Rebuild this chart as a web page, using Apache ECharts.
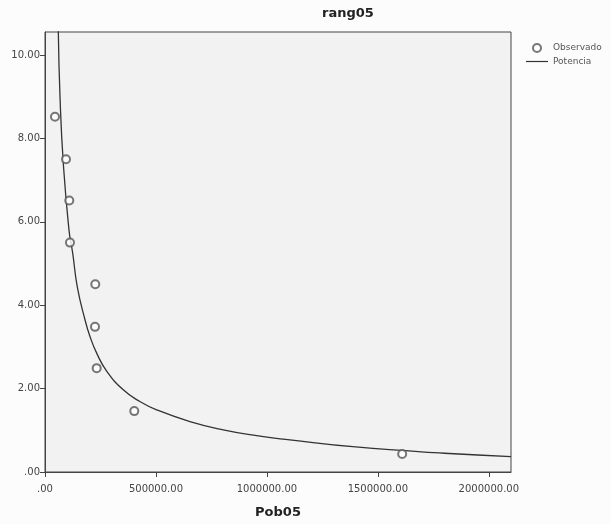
<!DOCTYPE html>
<html>
<head>
<meta charset="utf-8">
<script src="https://cdn.jsdelivr.net/npm/echarts@6/dist/echarts.min.js"></script>
<style>
  html, body { margin: 0; padding: 0; background: #fcfcfc; }
</style>
</head>
<body>
<div id="main" style="width: 611px; height: 524px"></div>
<script>
// observed points (Pob05, rang05)
var pobObs = [45000, 94600, 109500, 112600, 226600, 225300, 232900, 402300, 1609600];
var rangObs = [8.52, 7.5, 6.51, 5.5, 4.5, 3.48, 2.49, 1.46, 0.43];

// fitted power curve
var pobFit = [59900, 67600, 82400, 108100, 124800, 145500, 180200, 202700, 232900, 277800, 352700, 428000, 503200, 653200, 803300, 953700, 1103700, 1400000, 1800000, 2100000];
var rangFit = [10.6, 9.0, 7.41, 5.8, 5.25, 4.44, 3.65, 3.25, 2.85, 2.42, 1.97, 1.69, 1.49, 1.21, 1.01, 0.87, 0.77, 0.6, 0.45, 0.37];

var xTicks = [0, 500000, 1000000, 1500000, 2000000];
var yTicks = [0, 2, 4, 6, 8, 10];

function fmt(v) {
  var s = v.toFixed(2);
  return s.indexOf("0.") === 0 ? s.slice(1) : s;
}

var myChart = echarts.init(document.getElementById("main"));
var axisStyle = { color: "#444", width: 1 };
var labelStyle = { color: "#444", fontSize: 10, fontFamily: "DejaVu Sans" };

var option = {
  animation: false,
  title: {
    text: "rang05",
    left: 317,
    top: 2,
    textStyle: { fontSize: 13, fontWeight: "bold", color: "#222", fontFamily: "DejaVu Sans" },
  },
  legend: {
    orient: "vertical",
    left: 521,
    top: 38,
    itemWidth: 22,
    itemHeight: 8,
    itemGap: 4,
    textStyle: { fontSize: 9, color: "#555", fontFamily: "DejaVu Sans" },
    data: [
      { name: "Observado", icon: "emptyCircle" },
      { name: "Potencia", icon: "path://M0,0 L22,0 L22,1.2 L0,1.2 Z" },
    ],
  },
  grid: {
    left: 45,
    right: 100,
    top: 32,
    bottom: 52,
    show: true,
    backgroundColor: "#f2f2f2",
    borderColor: "#444",
    borderWidth: 1,
  },
  xAxis: {
    type: "value",
    min: 0,
    max: 2100000,
    name: "Pob05",
    nameLocation: "middle",
    nameGap: 34,
    nameTextStyle: { fontSize: 13, fontWeight: "bold", color: "#222", fontFamily: "DejaVu Sans" },
    axisLine: { lineStyle: axisStyle },
    axisTick: { show: true, length: 5, lineStyle: axisStyle, customValues: xTicks },
    axisLabel: Object.assign({ customValues: xTicks, formatter: fmt, margin: 12 }, labelStyle),
    splitLine: { show: false },
  },
  yAxis: {
    type: "value",
    min: 0,
    max: 10.55,
    axisLine: { show: true, lineStyle: axisStyle },
    axisTick: { show: true, length: 5, lineStyle: axisStyle, customValues: yTicks },
    axisLabel: Object.assign({ customValues: yTicks, formatter: fmt, margin: 5 }, labelStyle),
    splitLine: { show: false },
  },
  series: [
    {
      name: "Observado",
      type: "scatter",
      symbol: "emptyCircle",
      symbolSize: 8,
      itemStyle: { color: "#555", borderColor: "#555", borderWidth: 1 },
      data: pobObs.map(function (x, i) { return [x, rangObs[i]]; }),
      z: 3,
    },
    {
      name: "Potencia",
      type: "line",
      smooth: 0.5,
      symbol: "none",
      lineStyle: { color: "#333", width: 1.3 },
      itemStyle: { color: "#333" },
      data: pobFit.map(function (x, i) { return [x, rangFit[i]]; }),
      z: 2,
    },
  ],
};

myChart.setOption(option);
</script>
</body>
</html>
